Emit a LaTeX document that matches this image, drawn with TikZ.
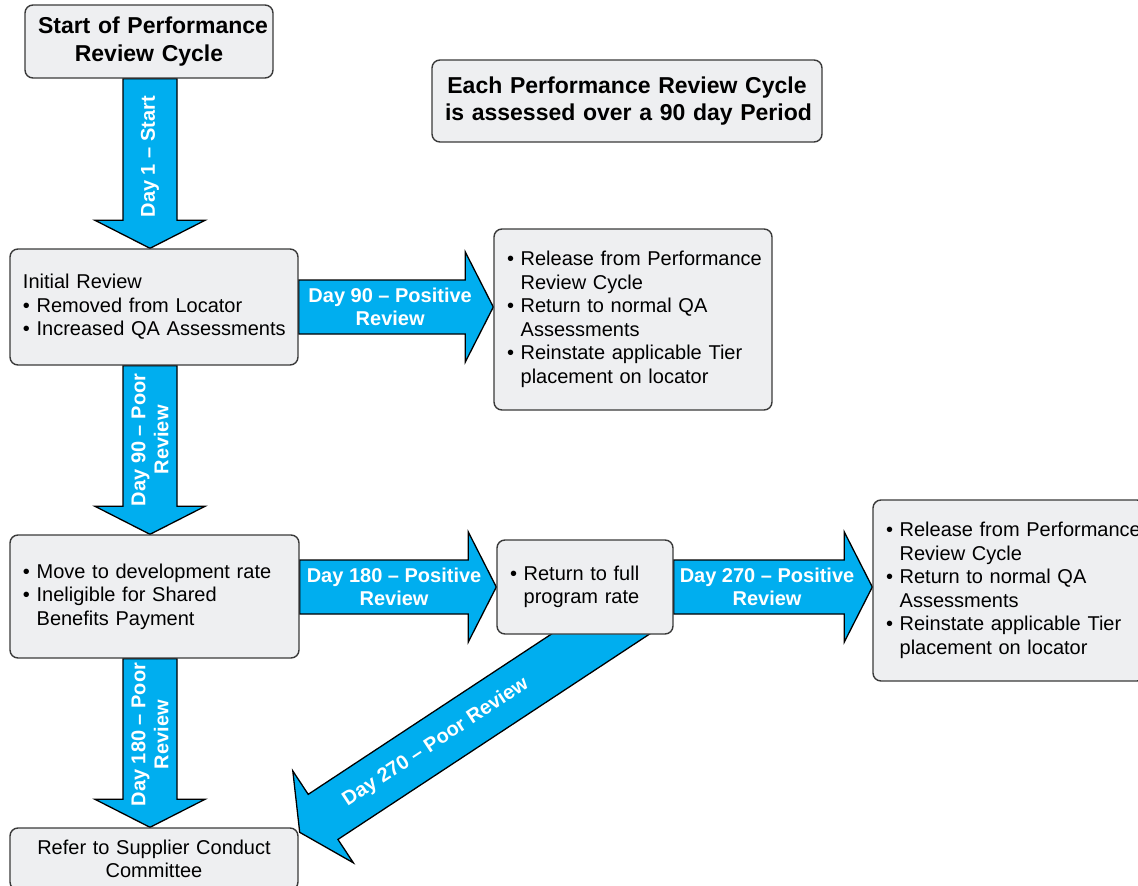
\documentclass[tikz,border=0pt]{standalone}
\usepackage{fontspec}
\setmainfont{Liberation Sans}
\usetikzlibrary{calc,backgrounds}
\definecolor{arrowblue}{HTML}{00AEEF}
\definecolor{boxfill}{HTML}{EEEFF1}
\definecolor{boxline}{HTML}{3A3A3A}
\newcommand\bul{\textbullet\ }
\newcommand\bulind{\hphantom{\textbullet\ }}
\newcommand\fatarrow[2]{%
  \coordinate (#1-#2-h) at ($(#2)!28pt!(#1)$);
  \draw[arrowfill] ($(#1)!27pt!90:(#2)$) -- ($(#1-#2-h)!27pt!-90:(#1)$) -- ($(#1-#2-h)!55pt!-90:(#1)$) -- (#2) -- ($(#1-#2-h)!55pt!90:(#1)$) -- ($(#1-#2-h)!27pt!90:(#1)$) -- ($(#1)!27pt!-90:(#2)$) -- cycle;}
\begin{document}
\begin{tikzpicture}[x=1pt,y=-1pt,
  box/.style={draw=boxline, line width=1.4pt, fill=boxfill, rounded corners=8pt,
    inner xsep=13pt, inner ysep=0pt, font=\fontsize{20}{23.5}\selectfont},
  lbox/.style={box, align=left},
  tbox/.style={box, align=center, font=\bfseries\fontsize{23}{27.5}\selectfont},
  arrowfill/.style={draw=black, line width=1.3pt, fill=arrowblue, line join=miter},
  alabel/.style={text=white, font=\bfseries\fontsize{20}{23}\selectfont, align=center, inner sep=0pt}]
\useasboundingbox (0,0) rectangle (1138,886);
% boxes
\node[tbox, text width=222pt, minimum height=73pt] (b0) at (149,41.5) {\mbox{Start of Performance}\\\mbox{Review Cycle}};
\node[tbox, text width=364pt, minimum height=82pt] (note) at (627,101) {\mbox{Each Performance Review Cycle}\\\mbox{is assessed over a 90 day Period}};
\node[lbox, text width=262pt, minimum height=116pt] (b1) at (154,307) {\mbox{Initial Review}\\\mbox{\bul Removed from Locator}\\\mbox{\bul Increased QA Assessments}};
\node[lbox, text width=252pt, minimum height=181pt] (b2) at (633,319.5) {\mbox{\bul Release from Performance}\\\mbox{\bulind Review Cycle}\\\mbox{\bul Return to normal QA}\\\mbox{\bulind Assessments}\\\mbox{\bul Reinstate applicable Tier}\\\mbox{\bulind placement on locator}};
\node[lbox, text width=263pt, minimum height=123pt] (b3) at (154.5,596.5) {\mbox{\bul Move to development rate}\\\mbox{\bul Ineligible for Shared}\\\mbox{\bulind Benefits Payment}};
\node[lbox, text width=150pt, minimum height=94pt] (b4) at (585,587) {\mbox{\bul Return to full}\\\mbox{\bulind program rate}};
\node[lbox, text width=246pt, minimum height=181pt] (b5) at (1009,590.5) {\mbox{\bul Release from Performance}\\\mbox{\bulind Review Cycle}\\\mbox{\bul Return to normal QA}\\\mbox{\bulind Assessments}\\\mbox{\bul Reinstate applicable Tier}\\\mbox{\bulind placement on locator}};
\node[box, align=center, text width=262pt, minimum height=62pt] (b6) at (154,859) {\mbox{Refer to Supplier Conduct}\\\mbox{Committee}};
% arrows
\begin{pgfonlayer}{background}
\coordinate (a1s) at ($(b0.south)+(1,0)$);
\coordinate (a1e) at (a1s |- b1.north);
\fatarrow{a1s}{a1e}
\node[alabel, rotate=90] (l1) at ($(a1s)!0.46!(a1e)$) {Day 1 – Start};
\coordinate (a2s) at (b1.east);
\coordinate (a2e) at (b1.east -| b2.west);
\fatarrow{a2s}{a2e}
\node[alabel] (l2) at ($(a2s)!0.47!(a2e)$) {Day 90 – Positive\\Review};
\coordinate (a3s) at (a1s |- b1.south);
\coordinate (a3e) at (a1s |- b3.north);
\fatarrow{a3s}{a3e}
\node[alabel, rotate=90] (l3) at ($(a3s)!0.44!(a3e)$) {Day 90 – Poor\\Review};
\coordinate (a4s) at (b3.east |- b4.west);
\coordinate (a4e) at (b4.west);
\fatarrow{a4s}{a4e}
\node[alabel] (l4) at ($(a4s)!0.48!(a4e)$) {Day 180 – Positive\\Review};
\coordinate (a5s) at (b4.east);
\coordinate (a5e) at (b4.east -| b5.west);
\fatarrow{a5s}{a5e}
\node[alabel] (l5) at ($(a5s)!0.47!(a5e)$) {Day 270 – Positive\\Review};
\coordinate (a6s) at (a1s |- b3.south);
\coordinate (a6e) at (a1s |- b6.north);
\fatarrow{a6s}{a6e}
\node[alabel, rotate=90] (l6) at ($(a6s)!0.45!(a6e)$) {Day 180 – Poor\\Review};
\coordinate (d0) at (640,608);
\coordinate (d1) at ($(b6.north east)+(1,5)$);
\fatarrow{d0}{d1}
\node[alabel, rotate=33.4] (l7) at ($(d0)!0.6!(d1)$) {Day 270 – Poor Review};
\end{pgfonlayer}
\end{tikzpicture}
\end{document}
